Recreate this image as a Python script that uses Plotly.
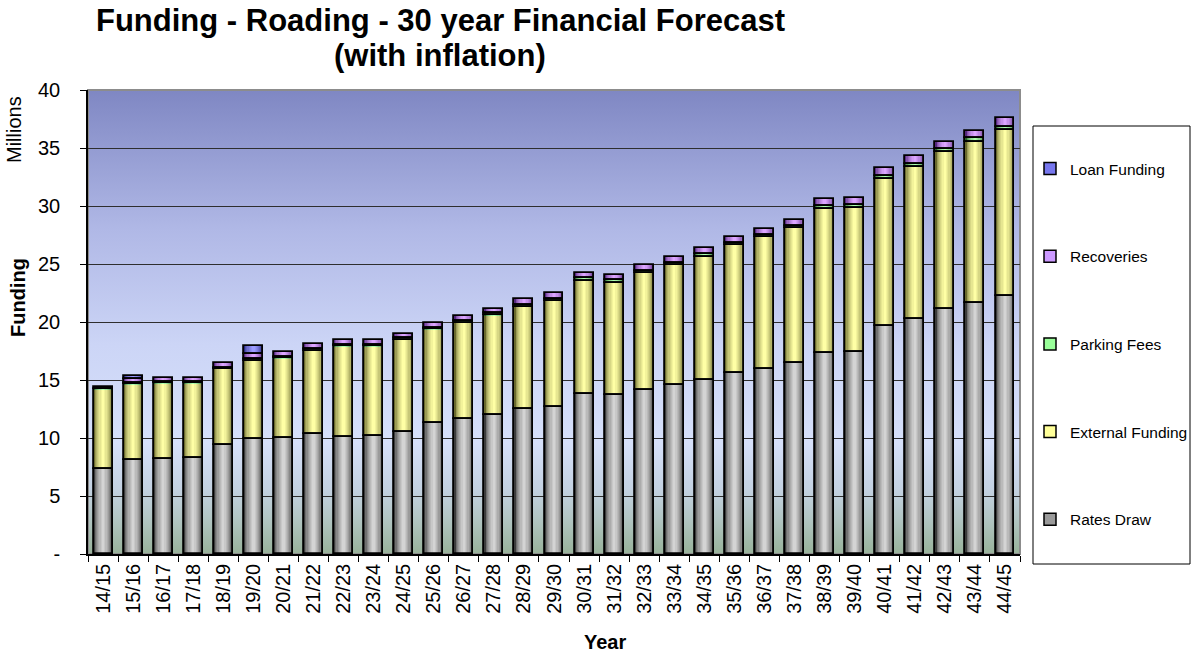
import base64
import numpy as np
import plotly.graph_objects as go

# Financial years
years = ["14/15", "15/16", "16/17", "17/18", "18/19", "19/20", "20/21", "21/22",
         "22/23", "23/24", "24/25", "25/26", "26/27", "27/28", "28/29", "29/30",
         "30/31", "31/32", "32/33", "33/34", "34/35", "35/36", "36/37", "37/38",
         "38/39", "39/40", "40/41", "41/42", "42/43", "43/44", "44/45"]

# Funding sources ($ millions)
rates_draw = [7.30, 8.10, 8.20, 8.30, 9.40, 9.90, 10.00, 10.35, 10.10, 10.20, 10.55,
              11.27, 11.60, 11.95, 12.50, 12.70, 13.77, 13.68, 14.14, 14.57, 15.00,
              15.60, 15.95, 16.45, 17.30, 17.40, 19.66, 20.29, 21.12, 21.60, 22.24]
external_funding = [6.90, 6.53, 6.50, 6.40, 6.55, 6.77, 6.87, 7.15, 7.80, 7.70, 7.90,
                    8.10, 8.34, 8.62, 8.82, 9.14, 9.79, 9.71, 10.06, 10.33, 10.63,
                    11.00, 11.35, 11.63, 12.47, 12.40, 12.69, 13.10, 13.56, 13.92, 14.31]
parking_fees = [0.05, 0.10, 0.10, 0.10, 0.12, 0.15, 0.15, 0.15, 0.15, 0.15, 0.15,
                0.15, 0.16, 0.17, 0.18, 0.18, 0.20, 0.20, 0.20, 0.20, 0.22,
                0.22, 0.22, 0.23, 0.25, 0.25, 0.27, 0.27, 0.27, 0.30, 0.30]
recoveries = [0.12, 0.34, 0.40, 0.40, 0.43, 0.41, 0.39, 0.42, 0.40, 0.40, 0.37,
              0.37, 0.40, 0.41, 0.48, 0.45, 0.44, 0.46, 0.50, 0.48, 0.50,
              0.48, 0.48, 0.51, 0.58, 0.61, 0.63, 0.62, 0.60, 0.68, 0.70]
loan_funding = [0.00, 0.30, 0.00, 0.00, 0.00, 0.70, 0.00, 0.00, 0.00, 0.00, 0.00,
                0.00, 0.00, 0.00, 0.00, 0.00, 0.00, 0.00, 0.00, 0.00, 0.00,
                0.00, 0.00, 0.00, 0.00, 0.00, 0.00, 0.00, 0.00, 0.00, 0.00]

y_ticks = [0, 5, 10, 15, 20, 25, 30, 35, 40]
y_tick_text = ["-", "5", "10", "15", "20", "25", "30", "35", "40"]

FONT = "Liberation Sans, Arial, sans-serif"

# (name, values, edge colour, centre colour, legend swatch colour), bottom of stack first
series = [
    ("Rates Draw", rates_draw, (60, 60, 60), (212, 212, 212), "#9a9a9a"),
    ("External Funding", external_funding, (105, 105, 45), (255, 255, 165), "#ffff99"),
    ("Parking Fees", parking_fees, (40, 100, 40), (175, 255, 175), "#99ff99"),
    ("Recoveries", recoveries, (85, 40, 125), (220, 165, 255), "#cc99ff"),
    ("Loan Funding", loan_funding, (40, 40, 125), (155, 155, 255), "#7777ee"),
]


def mix(c1, c2, t):
    r, g, b = (int(round(a + (b_ - a) * t)) for a, b_ in zip(c1, c2))
    return f"rgb({r},{g},{b})"


fig = go.Figure()

# Legend entries, listed top to bottom
for name, _, _, _, swatch in reversed(series):
    fig.add_bar(x=[years[0]], y=[None], name=name, legendgroup=name,
                marker=dict(color=swatch, line=dict(color="black", width=1.5)),
                hoverinfo="skip")

BAR_W = 0.63
n_layers = 8
layer_w = np.linspace(BAR_W, 0.08, n_layers)
layer_t = (np.arange(n_layers) / (n_layers - 1)) ** 0.55

stack_base = np.zeros(len(years))
segments = []
for name, vals, edge, centre, _ in series:
    vals = np.array(vals, dtype=float)
    y = [v if v > 0 else None for v in vals]
    base = stack_base.copy()
    segments.append((name, y, base))
    # cylinder shading: nested bars, darker at the rim, lighter at the middle
    for w, t in zip(layer_w, layer_t):
        fig.add_bar(x=years, y=y, base=base, width=w, showlegend=False,
                    legendgroup=name, name=name, hoverinfo="skip",
                    marker=dict(color=mix(edge, centre, t), line=dict(width=0)))
    stack_base = stack_base + vals

# black outlines on top of the shading
for name, y, base in segments:
    fig.add_bar(x=years, y=y, base=base, width=BAR_W, showlegend=False,
                legendgroup=name, name=name,
                marker=dict(color="rgba(0,0,0,0)", line=dict(color="black", width=1.8)))

# plot-area background gradient
stops = [(0.00, "#7f87c3"), (0.30, "#b0b8e6"), (0.55, "#ccd5f6"), (0.76, "#d6e0fa"),
         (0.86, "#c4d2e2"), (0.93, "#b0c4c0"), (1.00, "#98b29a")]
svg = ('<svg xmlns="http://www.w3.org/2000/svg" width="100" height="100" '
       'viewBox="0 0 100 100" preserveAspectRatio="none"><defs>'
       '<linearGradient id="g" x1="0" y1="0" x2="0" y2="1">'
       + "".join(f'<stop offset="{o}" stop-color="{c}"/>' for o, c in stops)
       + '</linearGradient></defs><rect width="100" height="100" fill="url(#g)"/></svg>')
bg_src = "data:image/svg+xml;base64," + base64.b64encode(svg.encode()).decode()

L, R, T, B = 88, 172, 90, 103
W, H = 1192, 657
pw, ph = W - L - R, H - T - B


def px_x(x):
    return (x - L) / pw


def px_y(y):
    return (H - B - y) / ph


def label(text, x, y, size=20, angle=0):
    return dict(text=text, x=px_x(x), y=px_y(y), xref="paper", yref="paper",
                xanchor="center", yanchor="middle", textangle=angle, showarrow=False,
                font=dict(family=FONT, size=size, color="black"))


fig.update_layout(
    width=W, height=H, autosize=False,
    margin=dict(l=L, r=R, t=T, b=B, autoexpand=False),
    barmode="overlay",
    bargap=0,
    paper_bgcolor="white",
    plot_bgcolor="#d4dcfa",
    font=dict(family=FONT, color="black", size=20),
    images=[dict(source=bg_src, xref="paper", yref="paper", x=0, y=1,
                 sizex=1, sizey=1, sizing="stretch", xanchor="left", yanchor="top",
                 layer="below")],
    shapes=[dict(type="rect", xref="paper", yref="paper", x0=0, x1=1, y0=0, y1=1,
                 line=dict(color="#8c8c8c", width=2), layer="between")],
    legend=dict(xref="container", yref="paper", x=1030 / W, y=px_y(152),
                xanchor="left", yanchor="top", traceorder="grouped",
                tracegroupgap=64.5, bgcolor="rgba(0,0,0,0)",
                font=dict(family=FONT, size=15.5, color="black"), itemwidth=30),
    annotations=[
        label("<b>Funding - Roading - 30 year Financial Forecast</b>", 440, 20.5, size=31),
        label("<b>(with inflation)</b>", 440, 55.5, size=31),
        label("<b>Funding</b>", 18, 298, angle=-90),
        label("Millions", 14, 130, angle=-90),
        label("<b>Year</b>", 605, 642),
    ],
)

# legend frame
fig.add_shape(type="rect", xref="paper", yref="paper",
              x0=px_x(1033), x1=px_x(1190), y0=px_y(564), y1=px_y(126),
              line=dict(color="black", width=1), layer="above")

fig.update_xaxes(type="category", categoryorder="array", categoryarray=years,
                 range=[-0.5, len(years) - 0.5], tickangle=-90,
                 tickfont=dict(size=20), ticks="outside", tickson="boundaries",
                 ticklen=6, tickcolor="black", showline=True, linecolor="black",
                 linewidth=1.5, showgrid=False)
fig.update_yaxes(range=[0, 40], tickvals=y_ticks, ticktext=y_tick_text,
                 tickfont=dict(size=20), ticks="outside", ticklen=6, tickcolor="black",
                 ticklabelstandoff=16, showline=True, linecolor="black", linewidth=1.5,
                 showgrid=True, gridcolor="#2e2e2e", gridwidth=1, zeroline=False)

fig.write_html("out.html")
